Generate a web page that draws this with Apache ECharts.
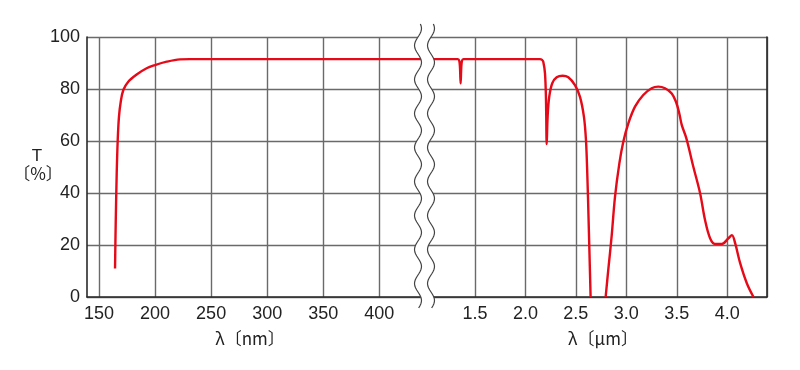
<!DOCTYPE html>
<html>
<head>
<meta charset="utf-8">
<script src="https://cdn.jsdelivr.net/npm/echarts@6/dist/echarts.min.js"></script>
<style>
  html, body { margin: 0; padding: 0; background: #fff; }
  #chart { width: 800px; height: 370px; }
</style>
</head>
<body>
<div id="chart"></div>
<script>
// UV part, wavelength in nm
var nmWave = [164.3, 164.9, 165.8, 166.7, 167.8, 169.4, 171.7, 176.1, 183.6, 192.5, 199.9, 210.4, 222.2, 231, 440.3];
var nmT    = [11.0, 28.3, 47.6, 60.4, 69.3, 75.1, 79.6, 82.8, 85.6, 88.0, 89.2, 90.5, 91.4, 91.5, 91.5];

// IR part, wavelength in um (null = no line drawn, curve sits at 0)
var umWave = [1.0, 1.33, 1.345, 1.352, 1.358, 1.364, 1.371, 1.386, 2.144, 2.165, 2.177, 2.194, 2.204, 2.211,
              2.22, 2.236, 2.266, 2.31, 2.369, 2.425, 2.491, 2.541, 2.58, 2.6, 2.613, 2.627, 2.64, 2.646,
              2.72, 2.795, 2.821, 2.854, 2.888, 2.931, 2.97, 3.02, 3.086, 3.168, 3.251, 3.317, 3.383, 3.45,
              3.492, 3.525, 3.549, 3.595, 3.664, 3.731, 3.78, 3.83, 3.88, 3.946, 4.012, 4.046, 4.079, 4.128,
              4.194, 4.26];
var umT    = [91.5, 91.5, 90.8, 88.0, 82.2, 88.0, 90.8, 91.5, 91.5, 91.2, 90.5, 86.0, 75.8, 58.8,
              69.3, 77.0, 82.2, 84.5, 85.1, 84.5, 81.5, 77.0, 69.3, 60.4, 47.6, 28.3, 9.1, 0,
              null, 0, 10.4, 23.2, 38.6, 51.4, 59.7, 66.8, 73.2, 77.7, 80.3, 80.9, 80.3, 78.3,
              75.1, 70.6, 66.2, 61.0, 50.1, 39.9, 29.6, 22.6, 20.4, 20.4, 22.6, 23.8, 20.6, 13.0,
              5.3, 0];

var nmTicks = [150, 200, 250, 300, 350, 400];

var font = '"Liberation Sans", "Noto Sans CJK JP", sans-serif';
var cjkFont = '"Noto Sans CJK JP", "Liberation Sans", sans-serif';
var red = '#e60a18';
var gridColor = '#6a6a6a';
var frameColor = '#2a2a2a';

var seamX = 424.5;   // where the two panels meet
var plotTop = 37, plotBottom = 297;

function pairs(xs, ys) {
    return xs.map(function (x, i) { return [x, ys[i]]; });
}

// wavy break band
function wave(cx, y0, y1) {
    var pts = [];
    for (var y = y0; y <= y1; y += 2) {
        pts.push([cx + 3.5 * Math.sin((y - 20) / 34 * 2 * Math.PI), y]);
    }
    return pts;
}
var leftWave = wave(seamX - 6.5, 24, 308);
var rightWave = wave(seamX + 6.5, 24, 308);
var bandPts = leftWave.concat(rightWave.slice().reverse());

var chart = echarts.init(document.getElementById('chart'));

function labelStyle(extra) {
    return Object.assign({ color: '#222', fontSize: 18, fontFamily: font }, extra);
}

chart.setOption({
    animation: false,
    grid: [
        { left: 87, top: plotTop, width: seamX - 87, height: plotBottom - plotTop },
        { left: seamX, top: plotTop, width: 767 - seamX, height: plotBottom - plotTop }
    ],
    xAxis: [{
        gridIndex: 0, type: 'value', min: 139.3, max: 440.3,
        axisLine: { lineStyle: { color: frameColor, width: 1.6 } },
        axisTick: { show: false, customValues: nmTicks },
        axisLabel: labelStyle({ customValues: nmTicks, margin: 8 }),
        splitLine: { show: true, lineStyle: { color: gridColor, width: 1.4 } }
    }, {
        gridIndex: 1, type: 'value', min: 1.0, max: 4.394, interval: 0.5,
        axisLine: { lineStyle: { color: frameColor, width: 1.6 } },
        axisTick: { show: false },
        axisLabel: labelStyle({
            margin: 8, showMaxLabel: false,
            formatter: function (v) { return v <= 1.0 ? '' : v.toFixed(1); }
        }),
        splitLine: { show: true, lineStyle: { color: gridColor, width: 1.4 } }
    }],
    yAxis: [{
        gridIndex: 0, type: 'value', min: 0, max: 100, interval: 20,
        axisLine: { show: true, lineStyle: { color: frameColor, width: 1.6 } },
        axisTick: { show: false },
        axisLabel: labelStyle({ margin: 7 }),
        splitLine: { lineStyle: { color: gridColor, width: 1.4 } }
    }, {
        gridIndex: 1, type: 'value', min: 0, max: 100, interval: 20, position: 'right',
        axisLine: { show: true, lineStyle: { color: frameColor, width: 1.6 } },
        axisTick: { show: false },
        axisLabel: { show: false },
        splitLine: { lineStyle: { color: gridColor, width: 1.4 } }
    }],
    series: [{
        type: 'line', xAxisIndex: 0, yAxisIndex: 0,
        data: pairs(nmWave, nmT),
        showSymbol: false, smooth: 0.35,
        lineStyle: { color: red, width: 2.4 }
    }, {
        type: 'line', xAxisIndex: 1, yAxisIndex: 1,
        data: pairs(umWave, umT),
        showSymbol: false, smooth: 0.35, connectNulls: false,
        lineStyle: { color: red, width: 2.4 }
    }],
    graphic: [
        { type: 'polygon', z: 100, shape: { points: bandPts }, style: { fill: '#fff' } },
        { type: 'polyline', z: 101, shape: { points: leftWave }, style: { stroke: '#444', lineWidth: 1.2, fill: null } },
        { type: 'polyline', z: 101, shape: { points: rightWave }, style: { stroke: '#444', lineWidth: 1.2, fill: null } },
        { type: 'text', z: 102, x: 37, y: 156, style: { text: 'T', fill: '#222', fontSize: 17, fontFamily: font, align: 'center', verticalAlign: 'middle' } },
        { type: 'text', z: 102, x: 38, y: 174, style: { text: '〔%〕', fill: '#222', fontSize: 17, fontFamily: cjkFont, align: 'center', verticalAlign: 'middle' } },
        { type: 'text', z: 102, x: 250, y: 339, style: { text: 'λ〔nm〕', fill: '#222', fontSize: 17, fontFamily: cjkFont, align: 'center', verticalAlign: 'middle' } },
        { type: 'text', z: 102, x: 603, y: 339, style: { text: 'λ〔μm〕', fill: '#222', fontSize: 17, fontFamily: cjkFont, align: 'center', verticalAlign: 'middle' } }
    ]
});
</script>
</body>
</html>
